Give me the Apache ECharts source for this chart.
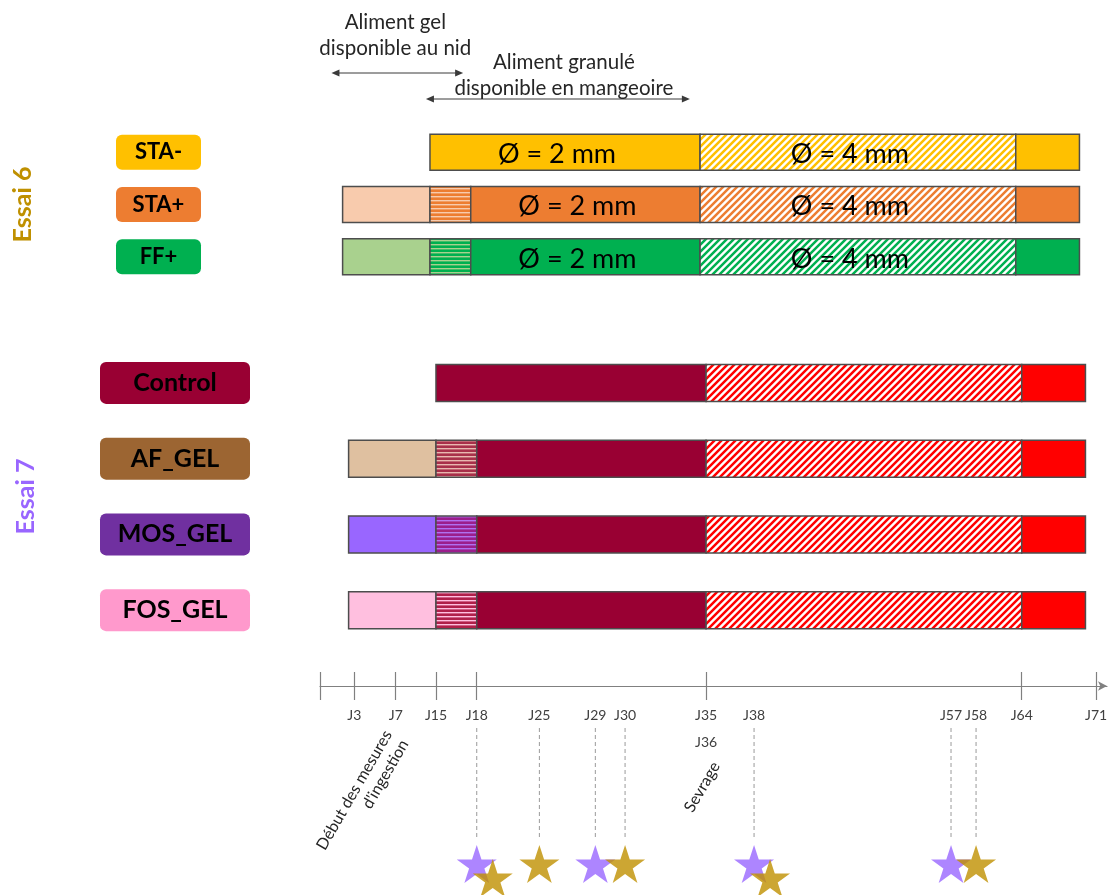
<!DOCTYPE html>
<html><head><meta charset="utf-8">
<script src="https://cdn.jsdelivr.net/npm/echarts@6/dist/echarts.min.js"></script>
<style>html,body{margin:0;padding:0;background:#fff}#c{width:1111px;height:895px}</style>
</head><body><div id="c"></div>
<script>
// ---------------- data ----------------
const essai6Groups = ['STA-', 'STA+', 'FF+'];
const essai7Groups = ['Control', 'AF_GEL', 'MOS_GEL', 'FOS_GEL'];
const essai6FirstDay = [15, 2.5, 2.5];
const essai7FirstDay = [15, 2.5, 2.5, 2.5];
const mixStartDay = 15;     // gel + granulé
const pelletOnlyDay = 18;   // granulé only, 2 mm
const sevrageDay = 35;      // 2 mm -> 4 mm
const hatchEndDay = 64;
const lastDay = 70;
const pelletLabels = ['Ø = 2 mm', 'Ø = 4 mm'];

const tickDays   = [0, 3, 7, 15, 18, 25, 29, 30, 35, 38, 57, 58, 64, 71];
const tickLabels = ['', 'J3', 'J7', 'J15', 'J18', 'J25', 'J29', 'J30', 'J35\nJ36', 'J38', 'J57', 'J58', 'J64', 'J71'];
// where each day sits on the (not to scale) time line of the schema
const tickPlace  = [0, 3.14, 6.93, 10.61, 14.34, 20.07, 25.19, 27.91, 35.32, 39.71, 57.73, 60.02, 64.20, 71];
const tickMarkDays = [0, 3, 7, 15, 18, 35, 64, 71];

const essai7StarDays = [18, 29, 38, 57];
const essai6StarDays = [18, 25, 30, 38, 58];

const noteTexts = ['Aliment gel\ndisponible au nid', 'Aliment granulé\ndisponible en mangeoire'];
const noteFromDay = [1, 13];
const noteToDay = [17, 34];

const eventTexts = ["Début des mesures\nd'ingestion", 'Sevrage'];
const eventDays = [7, 35];

// ---------------- helpers ----------------
function place(day) {
  for (let i = 1; i < tickDays.length; i++) {
    if (day <= tickDays[i]) {
      const t = (day - tickDays[i - 1]) / (tickDays[i] - tickDays[i - 1]);
      return tickPlace[i - 1] + t * (tickPlace[i] - tickPlace[i - 1]);
    }
  }
  const n = tickDays.length - 1;
  return tickPlace[n] + (day - tickDays[n]) * (tickPlace[n] - tickPlace[n - 1]) / (tickDays[n] - tickDays[n - 1]);
}
function labelFor(v) {
  let best = 0, bd = 1e9;
  tickPlace.forEach((p, i) => { const d = Math.abs(p - v); if (d < bd) { bd = d; best = i; } });
  return tickLabels[best];
}
function diag(color) {
  const s = 7, c = document.createElement('canvas');
  c.width = s; c.height = s;
  const g = c.getContext('2d');
  g.fillStyle = '#fff'; g.fillRect(0, 0, s, s);
  g.strokeStyle = color; g.lineWidth = 2.5;
  g.beginPath();
  g.moveTo(-2, s + 2); g.lineTo(s + 2, -2);
  g.moveTo(-2, 2); g.lineTo(2, -2);
  g.moveTo(s - 2, s + 2); g.lineTo(s + 2, s - 2);
  g.stroke();
  return { image: c, repeat: 'repeat' };
}
function hstripe(base, line) {
  const c = document.createElement('canvas');
  c.width = 4; c.height = 4;
  const g = c.getContext('2d');
  g.fillStyle = base; g.fillRect(0, 0, 4, 4);
  g.fillStyle = line; g.fillRect(0, 0, 4, 1.4);
  return { image: c, repeat: 'repeat' };
}
const kinds = ['gel', 'mix', 'p2', 'p4', 'end'];
function segments(first) {
  const s = [];
  if (first < mixStartDay) {
    s.push([first, mixStartDay, 'gel'], [mixStartDay, pelletOnlyDay, 'mix'], [pelletOnlyDay, sevrageDay, 'p2']);
  } else {
    s.push([first, sevrageDay, 'p2']);
  }
  s.push([sevrageDay, hatchEndDay, 'p4'], [hatchEndDay, lastDay, 'end']);
  return s;
}
function barData(firstDays) {
  const out = [];
  firstDays.forEach((f, row) => segments(f).forEach(s => out.push([row, place(s[0]), place(s[1]), kinds.indexOf(s[2])])));
  return out;
}

const style6 = [
  { p2: '#FFC000', p4: diag('#FFC000'), end: '#FFC000' },
  { gel: '#F8CBAD', mix: hstripe('#ED7D31', '#F8CBAD'), p2: '#ED7D31', p4: diag('#ED7D31'), end: '#ED7D31' },
  { gel: '#A9D18E', mix: hstripe('#00B050', '#A9D18E'), p2: '#00B050', p4: diag('#00B050'), end: '#00B050' }
];
const redHatch = diag('#FF0000');
const style7 = [
  { p2: '#990033', p4: redHatch, end: '#FF0000' },
  { gel: '#DFC0A0', mix: hstripe('#A8304A', '#E8B8B0'), p2: '#990033', p4: redHatch, end: '#FF0000' },
  { gel: '#9966FF', mix: hstripe('#9B1E8C', '#B070F0'), p2: '#990033', p4: redHatch, end: '#FF0000' },
  { gel: '#FFBFDF', mix: hstripe('#B0204A', '#FFBFDF'), p2: '#990033', p4: redHatch, end: '#FF0000' }
];
const box6 = ['#FFC000', '#ED7D31', '#00B050'];
const box7 = ['#990033', '#9C6532', '#7030A0', '#FF99CC'];

function barRender(styles, h, withText) {
  return function (params, api) {
    const row = api.value(0), k = kinds[api.value(3)];
    const p0 = api.coord([api.value(1), row]), p1 = api.coord([api.value(2), row]);
    const children = [{
      type: 'rect',
      shape: { x: p0[0], y: p0[1] - h / 2, width: p1[0] - p0[0], height: h },
      style: { fill: styles[row][k], stroke: '#4d4d4d', lineWidth: 1.5 }
    }];
    if (withText && (k === 'p2' || k === 'p4')) {
      children.push({
        type: 'text', x: (p0[0] + p1[0]) / 2 - 8, y: p0[1] + 2,
        style: { text: pelletLabels[k === 'p2' ? 0 : 1], fill: '#000', fontSize: 27, fontFamily: 'Lato',
                 align: 'center', verticalAlign: 'middle' }
      });
    }
    return { type: 'group', children };
  };
}

const starPath = (() => {
  let d = '';
  for (let i = 0; i < 10; i++) {
    const a = -Math.PI / 2 + i * Math.PI / 5, r = i % 2 ? 19.1 : 50;
    d += (i ? 'L' : 'M') + (50 + r * Math.cos(a)).toFixed(2) + ',' + (50 + r * Math.sin(a)).toFixed(2) + ' ';
  }
  return 'path://' + d + 'Z';
})();

const XMAX = 72;
const hiddenX = (g) => ({ gridIndex: g, type: 'value', min: 0, max: XMAX, show: false });
const labelRich = (colors, w, h, fs) => {
  const r = {};
  colors.forEach((c, i) => {
    r['b' + i] = { backgroundColor: c, borderRadius: 6, width: w, height: h, lineHeight: h, align: 'center',
      verticalAlign: 'middle', fontSize: fs, fontWeight: 'bold', fontFamily: 'Lato', color: '#000' };
  });
  return r;
};

const allStarDays = Array.from(new Set(essai7StarDays.concat(essai6StarDays))).sort((a, b) => a - b);

const option = {
  animation: false,
  backgroundColor: '#fff',
  grid: [
    { left: 320, right: 4, top: 60, height: 52 },
    { left: 314, right: 10, top: 126, height: 157 },
    { left: 320, right: 4, top: 345, height: 303 },
    { left: 320, right: 4, top: 686, height: 158 },
    { left: 320, right: 4, top: 844, height: 40 },
    { left: 320, right: 4, top: 600, height: 86 }
  ],
  xAxis: [
    hiddenX(0), hiddenX(1), hiddenX(2),
    { gridIndex: 3, type: 'value', min: 0, max: XMAX, position: 'top',
      axisLine: { show: true, onZero: false, symbol: ['none', 'arrow'], symbolSize: [7, 9],
                  lineStyle: { color: '#808080', width: 1.2 } },
      axisTick: { show: true, inside: true, length: 14, customValues: tickMarkDays.map(place),
                  lineStyle: { color: '#808080', width: 1.2 } },
      axisLabel: { show: true, inside: true, margin: 16, customValues: tickPlace.slice(1),
                   formatter: (v) => labelFor(v), color: '#404040', fontSize: 14, fontFamily: 'Lato', lineHeight: 27 },
      splitLine: { show: false } },
    hiddenX(4),
    { gridIndex: 5, type: 'value', min: 0, max: XMAX, position: 'bottom',
      axisLine: { show: false, onZero: false },
      axisTick: { show: true, inside: true, length: 14, customValues: tickMarkDays.map(place),
                  lineStyle: { color: '#808080', width: 1.2 } },
      axisLabel: { show: false }, splitLine: { show: false } }
  ],
  yAxis: [
    { gridIndex: 0, type: 'category', data: ['gel', 'granulé'], inverse: true, show: false },
    { gridIndex: 1, type: 'category', data: essai6Groups, inverse: true,
      axisLine: { show: false }, axisTick: { show: false }, splitLine: { show: false },
      axisLabel: { margin: 113, formatter: (v, i) => '{b' + i + '|' + v + '}', rich: labelRich(box6, 85, 35, 22) },
      name: 'Essai 6', nameLocation: 'middle', nameRotate: 90, nameGap: 279,
      nameTextStyle: { color: '#BF9000', fontSize: 25, fontWeight: 'bold', fontFamily: 'Lato' } },
    { gridIndex: 2, type: 'category', data: essai7Groups, inverse: true,
      axisLine: { show: false }, axisTick: { show: false }, splitLine: { show: false },
      axisLabel: { margin: 70, formatter: (v, i) => '{b' + i + '|' + v + '}', rich: labelRich(box7, 150, 42, 25) },
      name: 'Essai 7', nameLocation: 'middle', nameRotate: 90, nameGap: 282,
      nameTextStyle: { color: '#9966FF', fontSize: 25, fontWeight: 'bold', fontFamily: 'Lato' } },
    { gridIndex: 3, type: 'value', min: 0, max: 1, inverse: true, show: false },
    { gridIndex: 4, type: 'category', data: ['★'], show: false },
    { gridIndex: 5, type: 'value', min: 0, max: 1, show: false }
  ],
  series: [
    { type: 'custom', xAxisIndex: 0, yAxisIndex: 0, silent: true,
      data: noteTexts.map((t, i) => [i, place(noteFromDay[i]), place(noteToDay[i])]),
      encode: { x: [1, 2], y: 0 },
      renderItem(params, api) {
        const i = api.value(0);
        const a = api.coord([api.value(1), i]), b = api.coord([api.value(2), i]);
        const y = a[1], col = '#3a3a3a';
        const shift = [[-2, -38], [6, -24]][i];
        return { type: 'group', children: [
          { type: 'line', shape: { x1: a[0] + 5, y1: y, x2: b[0] - 5, y2: y }, style: { stroke: col, lineWidth: 1 } },
          { type: 'polygon', shape: { points: [[a[0], y], [a[0] + 8, y - 3.5], [a[0] + 8, y + 3.5]] }, style: { fill: col } },
          { type: 'polygon', shape: { points: [[b[0], y], [b[0] - 8, y - 3.5], [b[0] - 8, y + 3.5]] }, style: { fill: col } },
          { type: 'text', x: (a[0] + b[0]) / 2 + shift[0], y: y + shift[1],
            style: { text: noteTexts[i], fontSize: 20.5, fontFamily: 'Lato', lineHeight: 26, align: 'center',
                     verticalAlign: 'middle', fill: '#262626' } }
        ] };
      } },
    { type: 'custom', xAxisIndex: 1, yAxisIndex: 1, silent: true, data: barData(essai6FirstDay),
      encode: { x: [1, 2], y: 0 }, renderItem: barRender(style6, 36, true) },
    { type: 'custom', xAxisIndex: 2, yAxisIndex: 2, silent: true, data: barData(essai7FirstDay),
      encode: { x: [1, 2], y: 0 }, renderItem: barRender(style7, 37, false) },
    { type: 'custom', xAxisIndex: 3, yAxisIndex: 3, silent: true,
      data: allStarDays.map(d => [place(d), 0]), encode: { x: 0, y: 1 },
      renderItem(params, api) {
        const p = api.coord([api.value(0), 0]);
        return { type: 'line', shape: { x1: p[0], y1: p[1] + 42, x2: p[0], y2: p[1] + 151 },
                 style: { stroke: '#9a9a9a', lineWidth: 1, lineDash: [4, 3] } };
      } },
    { type: 'custom', xAxisIndex: 3, yAxisIndex: 3, silent: true,
      data: eventDays.map((d, i) => [place(d), 0, i]), encode: { x: 0, y: 1 },
      renderItem(params, api) {
        const i = api.value(2);
        const p = api.coord([api.value(0), 0]);
        const off = [[-16, 41], [10, 77]][i];
        return { type: 'text', x: p[0] + off[0], y: p[1] + off[1], rotation: Math.PI / 3,
                 style: { text: eventTexts[i], fontSize: 16, fontFamily: 'Lato', lineHeight: 19, align: 'right',
                          verticalAlign: i === 0 ? 'top' : 'middle', fill: '#262626' } };
      } },
    { type: 'scatter', name: 'Essai 7', xAxisIndex: 4, yAxisIndex: 4, silent: true,
      symbol: starPath, symbolSize: [40, 38], itemStyle: { color: '#9966FF' },
      data: essai7StarDays.map(d => [place(d), 0]), z: 3 },
    { type: 'scatter', name: 'Essai 6', xAxisIndex: 4, yAxisIndex: 4, silent: true,
      symbol: starPath, symbolSize: [40, 38], itemStyle: { color: '#BF9000' },
      data: essai6StarDays.map(d => essai7StarDays.includes(d)
        ? { value: [place(d), 0], symbolOffset: [16, 14] } : [place(d), 0]), z: 4 }
  ]
};

const chart = echarts.init(document.getElementById('c'), null, { renderer: 'canvas' });
chart.setOption(option);
</script>
</body></html>
